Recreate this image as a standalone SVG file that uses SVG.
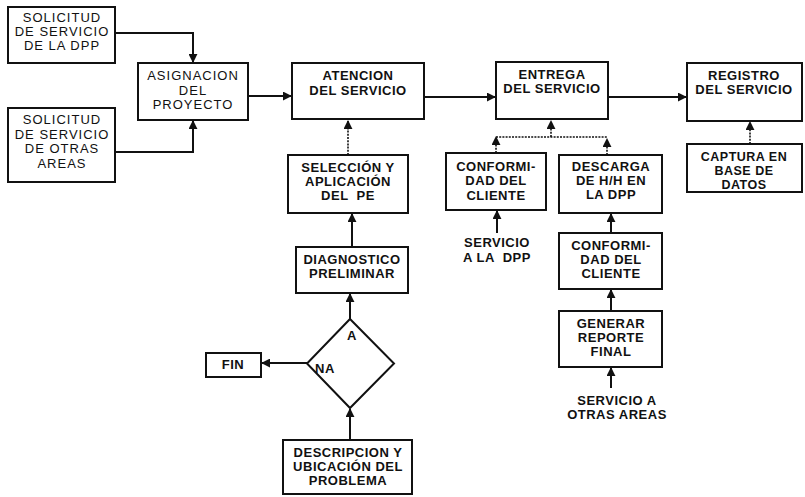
<svg xmlns="http://www.w3.org/2000/svg" width="805" height="497" viewBox="0 0 805 497">
  <style>
    .box { fill: #fff; stroke: #111; stroke-width: 2; }
    .t { font-family: "Liberation Sans", Arial, sans-serif; font-size: 13px; font-weight: bold; fill: #111; text-anchor: middle; letter-spacing: 0.5px; }
    .tl { font-weight: normal; letter-spacing: 1px; }
    .s { font-size: 12.5px; }
    .c { fill: none; stroke: #111; stroke-width: 2; }
    .d { fill: none; stroke: #111; stroke-width: 1.6; stroke-dasharray: 2 1.2; }
  </style>
  <defs>
    <marker id="ah" viewBox="0 0 10 10" refX="9" refY="5" markerWidth="9" markerHeight="9" markerUnits="userSpaceOnUse" orient="auto">
      <path d="M0,0 L10,5 L0,10 z" fill="#111"/>
    </marker>
  </defs>

  <!-- connectors -->
  <g id="connectors">
    <path class="c" d="M115,33 H193 V62" marker-end="url(#ah)"/>
    <path class="c" d="M115,152 H193 V121" marker-end="url(#ah)"/>
    <path class="c" d="M248,96 H291" marker-end="url(#ah)"/>
    <path class="c" d="M424,97 H495" marker-end="url(#ah)"/>
    <path class="c" d="M608,97 H686" marker-end="url(#ah)"/>
    <path class="d" d="M348,155 V121" marker-end="url(#ah)"/>
    <path class="c" d="M352,247 V214" marker-end="url(#ah)"/>
    <path class="c" d="M350,319 V294" marker-end="url(#ah)"/>
    <path class="c" d="M307,363 H262" marker-end="url(#ah)"/>
    <path class="c" d="M350,440 V409" marker-end="url(#ah)"/>
    <path class="d" d="M496,137 H607"/>
    <path class="d" d="M496,153 V137" marker-end="url(#ah)"/>
    <path class="d" d="M607,155 V139" marker-end="url(#ah)"/>
    <path class="d" d="M551,137 V121" marker-end="url(#ah)"/>
    <path class="c" d="M497,233 V211" marker-end="url(#ah)"/>
    <path class="c" d="M611,233 V214" marker-end="url(#ah)"/>
    <path class="c" d="M611,311 V290" marker-end="url(#ah)"/>
    <path class="c" d="M611,388 V368" marker-end="url(#ah)"/>
    <path class="d" d="M750,144 V122" marker-end="url(#ah)"/>
  </g>

  <g id="solicitud-dpp">
    <rect class="box" x="8" y="7" width="107" height="56"/>
    <text class="t tl" x="62" y="22">SOLICITUD</text>
    <text class="t tl" x="62" y="36">DE SERVICIO</text>
    <text class="t tl" x="62" y="50">DE LA DPP</text>
  </g>

  <g id="solicitud-otras">
    <rect class="box" x="8" y="108" width="107" height="74"/>
    <text class="t tl" x="62" y="124">SOLICITUD</text>
    <text class="t tl" x="62" y="139">DE SERVICIO</text>
    <text class="t tl" x="62" y="153">DE OTRAS</text>
    <text class="t tl" x="62" y="168">AREAS</text>
  </g>

  <g id="asignacion">
    <rect class="box" x="138" y="63" width="110" height="57"/>
    <text class="t tl" x="193" y="80">ASIGNACION</text>
    <text class="t tl" x="193" y="95">DEL</text>
    <text class="t tl" x="193" y="109">PROYECTO</text>
  </g>

  <g id="atencion">
    <rect class="box" x="292" y="63" width="132" height="56"/>
    <text class="t" x="358" y="80">ATENCION</text>
    <text class="t" x="358" y="95">DEL SERVICIO</text>
  </g>

  <g id="entrega">
    <rect class="box" x="496" y="62" width="112" height="57"/>
    <text class="t" x="552" y="79">ENTREGA</text>
    <text class="t" x="552" y="93">DEL SERVICIO</text>
  </g>

  <g id="registro">
    <rect class="box" x="687" y="63" width="115" height="58"/>
    <text class="t" x="744" y="80">REGISTRO</text>
    <text class="t" x="744" y="94">DEL SERVICIO</text>
  </g>

  <g id="captura">
    <rect class="box" x="687" y="144" width="115" height="48"/>
    <text class="t s" x="744" y="161">CAPTURA EN</text>
    <text class="t s" x="744" y="175">BASE DE</text>
    <text class="t s" x="744" y="189">DATOS</text>
  </g>

  <g id="seleccion">
    <rect class="box" x="288" y="155" width="120" height="58"/>
    <text class="t" x="348" y="172">SELECCIÓN Y</text>
    <text class="t" x="348" y="186">APLICACIÓN</text>
    <text class="t" x="348" y="200" xml:space="preserve">DEL  PE</text>
  </g>

  <g id="diagnostico">
    <rect class="box" x="296" y="247" width="112" height="46"/>
    <text class="t" x="352" y="264">DIAGNOSTICO</text>
    <text class="t" x="352" y="278">PRELIMINAR</text>
  </g>

  <g id="decision">
    <polygon class="box" points="350,319 394,363.5 350,408 307,363.5"/>
    <text class="t" x="352" y="340">A</text>
    <text class="t" x="325" y="373">NA</text>
  </g>

  <g id="fin">
    <rect class="box" x="206" y="353" width="55" height="24"/>
    <text class="t" x="233" y="369">FIN</text>
  </g>

  <g id="descripcion">
    <rect class="box" x="283" y="440" width="129" height="54"/>
    <text class="t" x="348" y="457">DESCRIPCION Y</text>
    <text class="t" x="348" y="471">UBICACIÓN DEL</text>
    <text class="t" x="348" y="485">PROBLEMA</text>
  </g>

  <g id="conformidad-1">
    <rect class="box" x="446" y="153" width="100" height="57"/>
    <text class="t" x="496" y="171">CONFORMI-</text>
    <text class="t" x="496" y="185">DAD DEL</text>
    <text class="t" x="496" y="200">CLIENTE</text>
  </g>

  <g id="servicio-dpp">
    <text class="t" x="497" y="247">SERVICIO</text>
    <text class="t" x="497" y="262" xml:space="preserve">A LA  DPP</text>
  </g>

  <g id="descarga">
    <rect class="box" x="559" y="155" width="103" height="58"/>
    <text class="t" x="611" y="171">DESCARGA</text>
    <text class="t" x="611" y="185">DE H/H EN</text>
    <text class="t" x="611" y="199">LA DPP</text>
  </g>

  <g id="conformidad-2">
    <rect class="box" x="559" y="233" width="103" height="56"/>
    <text class="t" x="611" y="250">CONFORMI-</text>
    <text class="t" x="611" y="264">DAD DEL</text>
    <text class="t" x="611" y="278">CLIENTE</text>
  </g>

  <g id="generar">
    <rect class="box" x="559" y="311" width="103" height="56"/>
    <text class="t" x="611" y="328">GENERAR</text>
    <text class="t" x="611" y="342">REPORTE</text>
    <text class="t" x="611" y="356">FINAL</text>
  </g>

  <g id="servicio-otras">
    <text class="t" x="617" y="405">SERVICIO A</text>
    <text class="t" x="617" y="419">OTRAS AREAS</text>
  </g>
</svg>
